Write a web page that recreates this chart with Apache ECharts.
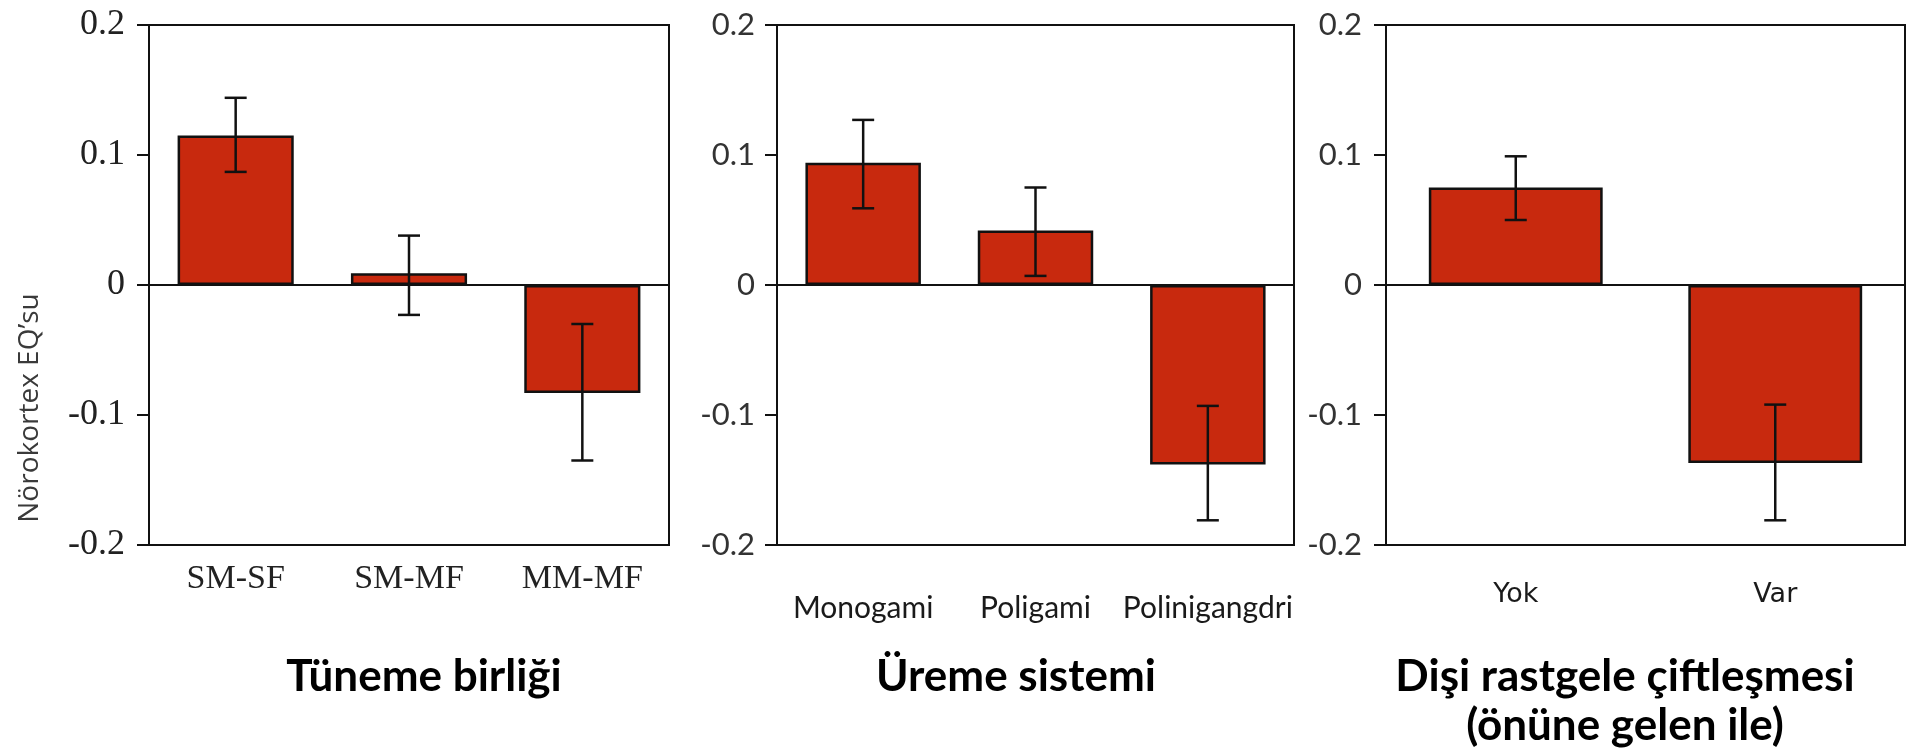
<!DOCTYPE html>
<html>
<head>
<meta charset="utf-8">
<script src="https://cdn.jsdelivr.net/npm/echarts@6/dist/echarts.min.js"></script>
<style>
  html, body { margin: 0; padding: 0; background: #fff; }
  #chart { width: 1907px; height: 755px; }
</style>
</head>
<body>
<div id="chart"></div>
<script>
// Neocortex residuals (mean with upper / lower error limits) by grouping
const roostCats = ['SM-SF', 'SM-MF', 'MM-MF'];
const roostMean = [0.115, 0.009, -0.083];
const roostLow  = [0.087, -0.023, -0.135];
const roostHigh = [0.144, 0.038, -0.030];

const matingCats = ['Monogami', 'Poligami', 'Polinigangdri'];
const matingMean = [0.094, 0.042, -0.138];
const matingLow  = [0.059, 0.007, -0.181];
const matingHigh = [0.127, 0.075, -0.093];

const promiscCats = ['Yok', 'Var'];
const promiscMean = [0.075, -0.137];
const promiscLow  = [0.050, -0.181];
const promiscHigh = [0.099, -0.092];

const yTicks = [-0.2, -0.1, 0, 0.1, 0.2];
const panelTitles = ['Tüneme birliği', 'Üreme sistemi', 'Dişi rastgele çiftleşmesi\n(önüne gelen ile)'];
const yAxisName = 'Nörokortex EQ\u2019su';

const BAR_COLOR = '#c8290e';
const INK = '#111';

const panels = [
  { cats: roostCats,   mean: roostMean,   low: roostLow,   high: roostHigh,
    grid: { left: 149, top: 25, width: 520, height: 520 },
    yFont: { fontFamily: 'Liberation Serif', fontSize: 36, color: '#222' }, yMargin: 24,
    xFont: { fontFamily: 'Liberation Serif', fontSize: 34, color: '#222' }, xMargin: 17 },
  { cats: matingCats,  mean: matingMean,  low: matingLow,  high: matingHigh,
    grid: { left: 777, top: 25, width: 517, height: 520 },
    yFont: { fontFamily: 'Lato', fontSize: 31, color: '#333' }, yMargin: 22,
    xFont: { fontFamily: 'Lato', fontSize: 30, color: '#1a1a1a' }, xMargin: 48 },
  { cats: promiscCats, mean: promiscMean, low: promiscLow, high: promiscHigh,
    grid: { left: 1386, top: 25, width: 519, height: 520 },
    yFont: { fontFamily: 'Lato', fontSize: 31, color: '#333' }, yMargin: 24,
    xFont: { fontFamily: 'DejaVu Sans', fontSize: 27, color: '#1a1a1a' }, xMargin: 36 }
];

function renderErrorBar(params, api) {
  const x = api.value(0);
  const pLo = api.coord([x, api.value(1)]);
  const pHi = api.coord([x, api.value(2)]);
  const half = 11;
  const style = { stroke: INK, lineWidth: 2.5 };
  return {
    type: 'group',
    children: [
      { type: 'line', shape: { x1: pHi[0], y1: pHi[1], x2: pLo[0], y2: pLo[1] }, style },
      { type: 'line', shape: { x1: pHi[0] - half, y1: pHi[1], x2: pHi[0] + half, y2: pHi[1] }, style },
      { type: 'line', shape: { x1: pLo[0] - half, y1: pLo[1], x2: pLo[0] + half, y2: pLo[1] }, style }
    ]
  };
}

const grid = [], xAxis = [], yAxis = [], series = [];
panels.forEach((p, i) => {
  grid.push(Object.assign({ show: true, borderColor: INK, borderWidth: 2, backgroundColor: 'transparent' }, p.grid));
  xAxis.push({
    type: 'category', gridIndex: i, data: p.cats, position: 'bottom',
    axisLine: { onZero: false, lineStyle: { color: INK, width: 2 } },
    axisTick: { alignWithLabel: true, length: 12, lineStyle: { color: INK, width: 2 } },
    axisLabel: Object.assign({ margin: p.xMargin, interval: 0 }, p.xFont),
    splitLine: { show: false }
  });
  yAxis.push({
    type: 'value', gridIndex: i, min: yTicks[0], max: yTicks[yTicks.length - 1], interval: 0.1,
    axisLine: { show: true, lineStyle: { color: INK, width: 2 } },
    axisTick: { show: true, length: 12, lineStyle: { color: INK, width: 2 } },
    axisLabel: Object.assign({ margin: p.yMargin, formatter: v => String(Math.round(v * 10) / 10) }, p.yFont),
    splitLine: { show: false }
  });
  series.push({
    type: 'bar', xAxisIndex: i, yAxisIndex: i, data: p.mean, barWidth: '67%',
    itemStyle: { color: BAR_COLOR, borderColor: INK, borderWidth: 2.5 },
    silent: true, animation: false,
    markLine: {
      silent: true, symbol: ['none', 'none'], label: { show: false },
      lineStyle: { color: INK, width: 2, type: 'solid' },
      data: [{ yAxis: 0 }], animation: false
    }
  });
  series.push({
    type: 'custom', xAxisIndex: i, yAxisIndex: i, renderItem: renderErrorBar,
    encode: { x: 0, y: [1, 2] }, z: 5, silent: true, animation: false,
    data: p.cats.map((c, k) => [k, p.low[k], p.high[k]])
  });
});

const titleFont = { fontFamily: 'Lato', fontWeight: 'bold', fontSize: 44, fill: '#000', textAlign: 'center', textVerticalAlign: 'middle' };
const graphic = [
  { type: 'text', x: 424, y: 677, style: Object.assign({ text: panelTitles[0] }, titleFont) },
  { type: 'text', x: 1016, y: 677, style: Object.assign({ text: panelTitles[1] }, titleFont) },
  { type: 'text', x: 1625, y: 677, style: Object.assign({ text: panelTitles[2].split('\n')[0] }, titleFont) },
  { type: 'text', x: 1625, y: 726, style: Object.assign({ text: panelTitles[2].split('\n')[1] }, titleFont) },
  { type: 'text', x: 30, y: 408, rotation: Math.PI / 2,
    style: { text: yAxisName, fontFamily: 'Open Sans', fontSize: 28, fill: '#3a3a3a', textAlign: 'center', textVerticalAlign: 'middle' } }
];

const chart = echarts.init(document.getElementById('chart'), null, { renderer: 'canvas' });
chart.setOption({ animation: false, backgroundColor: '#fff', grid, xAxis, yAxis, series, graphic });
</script>
</body>
</html>
